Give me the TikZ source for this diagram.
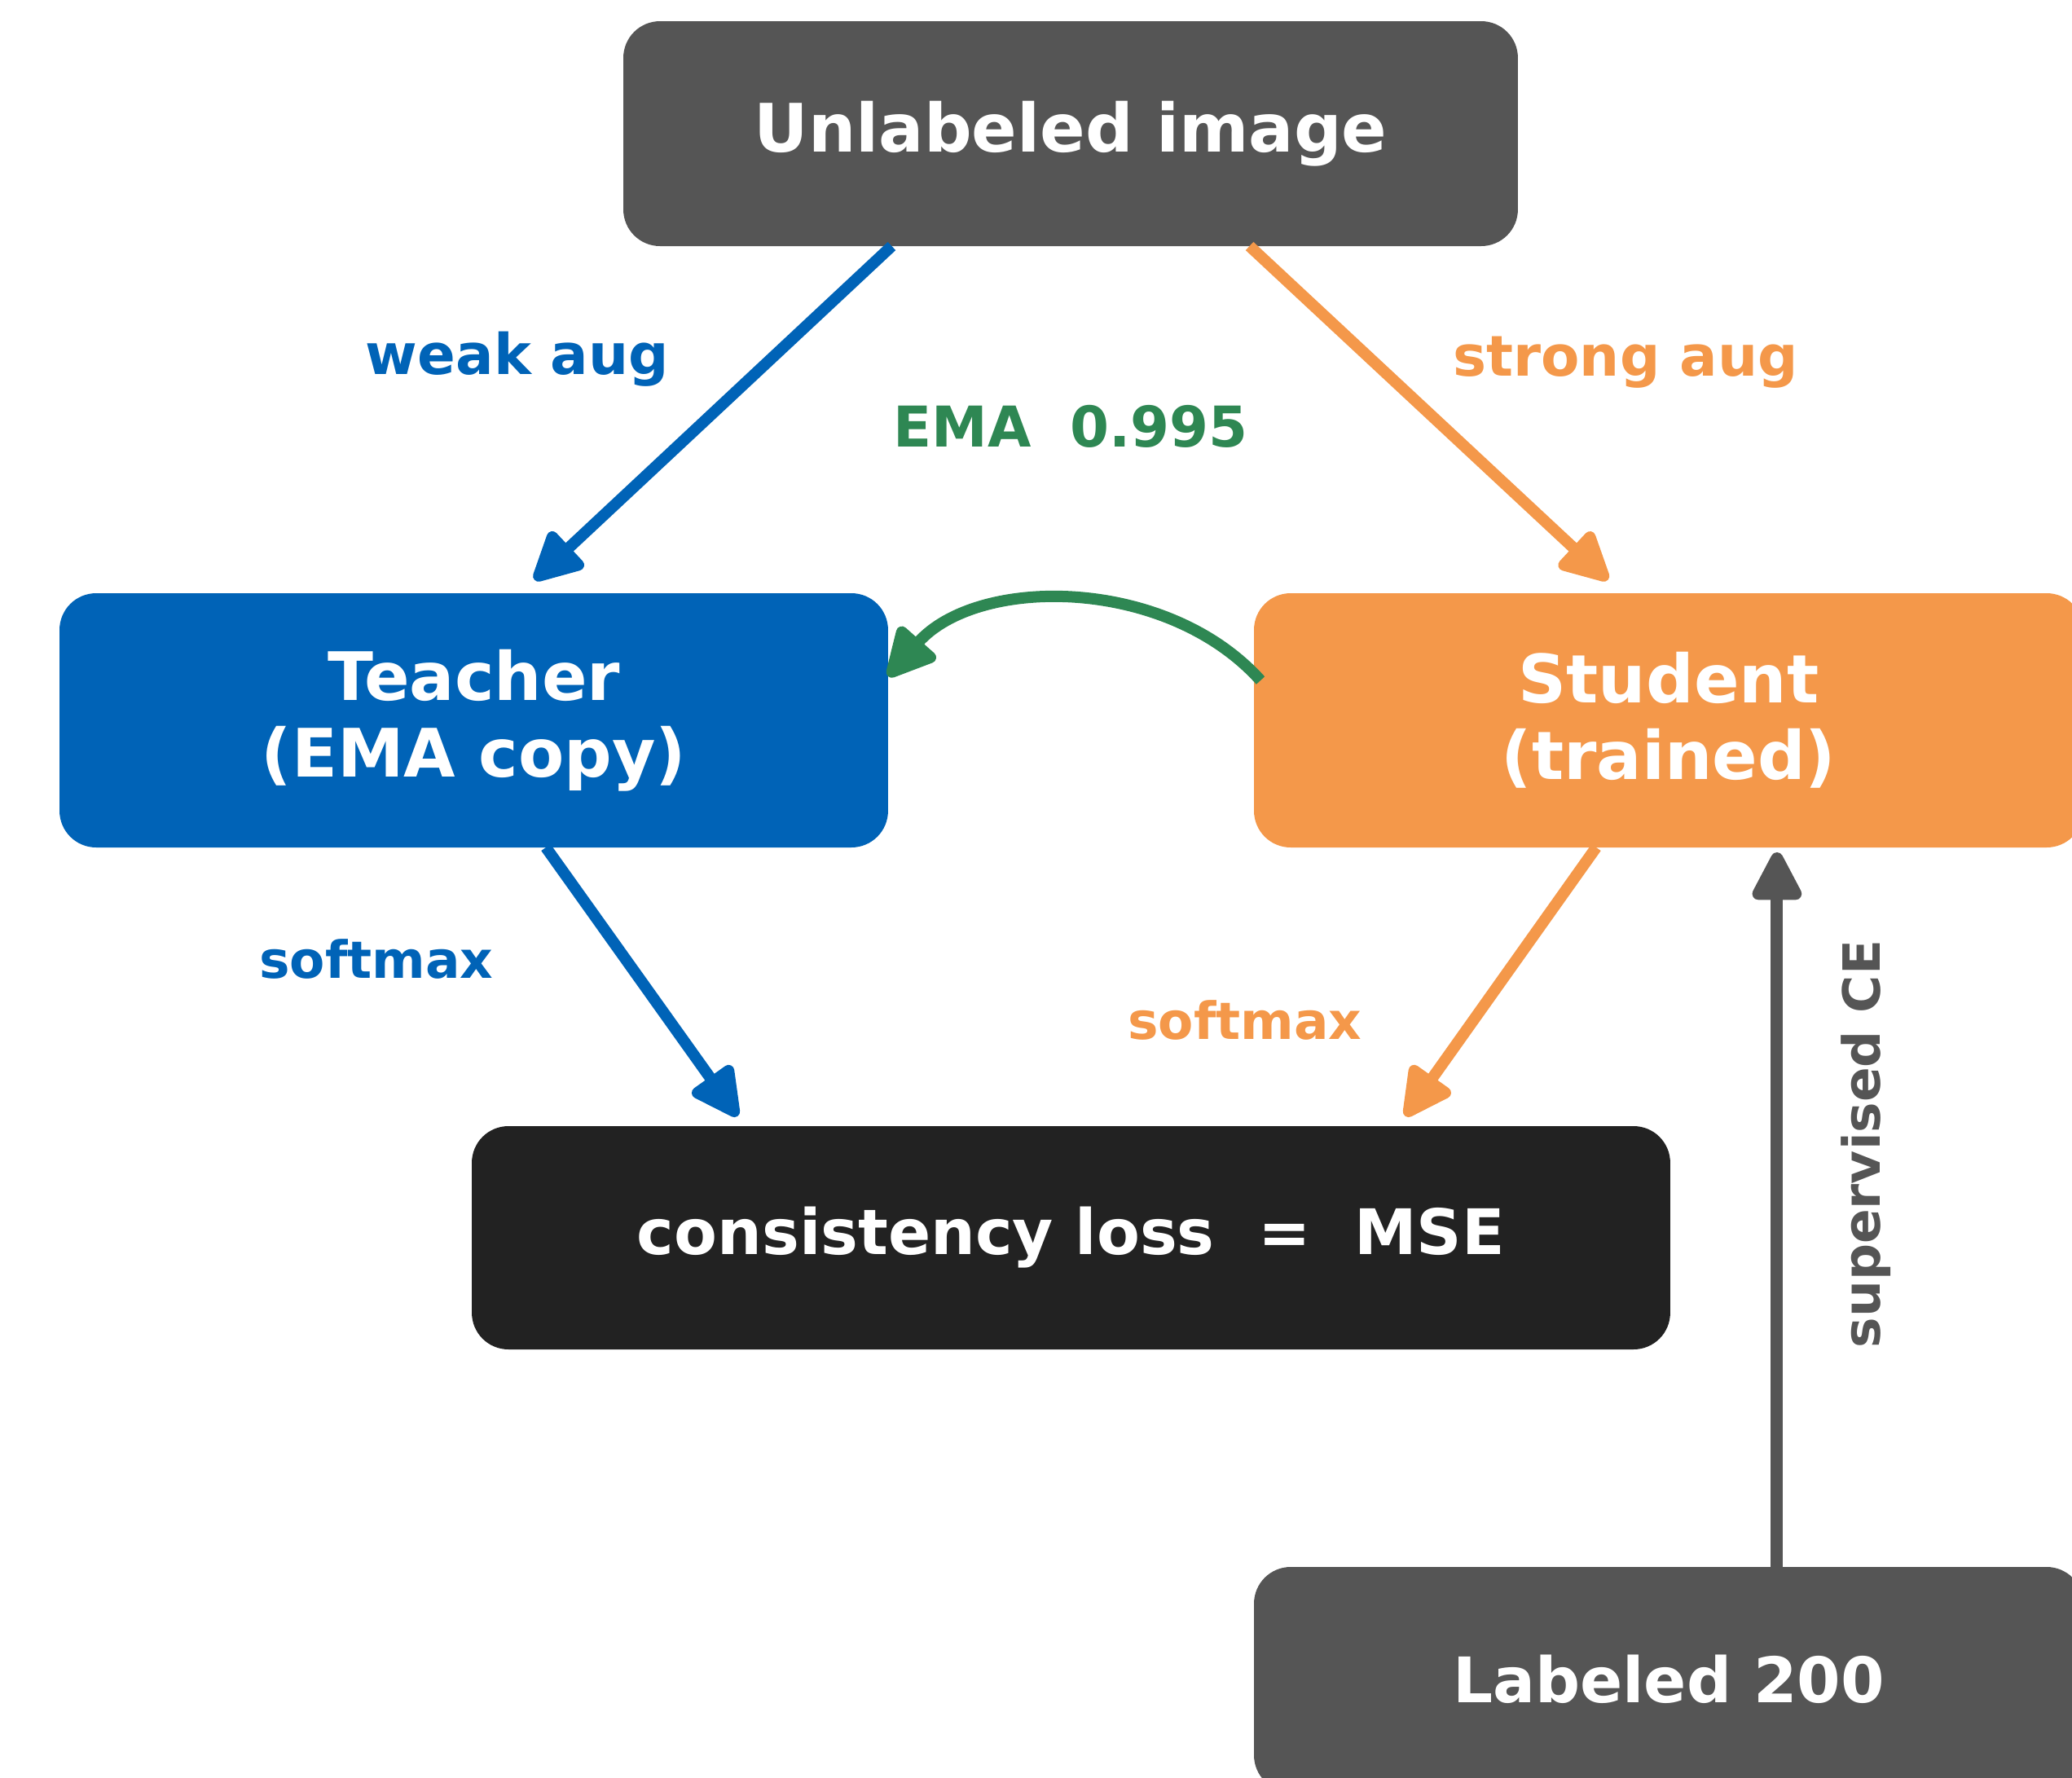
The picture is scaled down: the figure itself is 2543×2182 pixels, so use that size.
\documentclass[tikz,border=0pt]{standalone}
\usepackage{fontspec}
\setmainfont{DejaVu Sans}
\usetikzlibrary{arrows.meta,calc}
\definecolor{cgray}{HTML}{555555}
\definecolor{cblue}{HTML}{0063B7}
\definecolor{corange}{HTML}{F4984A}
\definecolor{cgreen}{HTML}{2E8753}
\definecolor{cdark}{HTML}{222222}
\begin{document}
\begin{tikzpicture}[x=0.1pt,y=-0.1pt,
  box/.style={rectangle, rounded corners=4.5pt, inner sep=0pt, outer sep=0pt,
    text=white, align=center, font=\bfseries\fontsize{8.2}{9.4}\selectfont},
  conn/.style={line width=1.4pt, -{Triangle[length=6.8pt,width=6.6pt,round]}},
  lab/.style={anchor=base, inner sep=0pt, font=\bfseries\fontsize{6.9}{8}\selectfont},
  smlab/.style={lab, font=\bfseries\fontsize{6.3}{7}\selectfont}]
\useasboundingbox (0,0) rectangle (2543,2182);
\clip (0,0) rectangle (2543,2182);

% boxes
\node[box, fill=cgray, minimum width=109.8pt, minimum height=27.6pt] (unl) at (1314,164) {Unlabeled image};
\node[box, fill=cblue, minimum width=101.7pt, minimum height=31.2pt] (teach) at (581.5,884) {Teacher\\(EMA copy)};
\node[box, fill=corange, minimum width=101.8pt, minimum height=31.2pt] (stud) at (2048,884) {Student\\(trained)};
\node[box, fill=cdark, minimum width=147.1pt, minimum height=27.4pt,
      font=\bfseries\fontsize{7.7}{9}\selectfont] (loss) at (1314.5,1519) {consistency loss\ \ =\ \ MSE};
\node[box, fill=cgray, minimum width=101.8pt, minimum height=27.6pt,
      font=\bfseries\fontsize{7.7}{9}\selectfont] (lab200) at (2048,2061) {Labeled 200};

% connectors
\draw[conn, cblue, shorten >=2.4pt] ($(unl.south west)!0.30!(unl.south east)$) -- ($(teach.north west)!0.556!(teach.north east)$);
\draw[conn, corange, shorten >=2.4pt] ($(unl.south west)!0.70!(unl.south east)$) -- ($(stud.north west)!0.444!(stud.north east)$);
\draw[conn, cblue, shorten >=1.5pt] ($(teach.south west)!0.587!(teach.south east)$) -- ($(loss.north west)!0.2277!(loss.north east)$);
\draw[conn, corange, shorten >=1.5pt] ($(stud.south west)!0.4126!(stud.south east)$) -- ($(loss.north west)!0.773!(loss.north east)$);
\draw[conn, cgray, line width=1.5pt, shorten >=0.6pt] ($(lab200.north west)!0.6306!(lab200.north east)$) -- ($(stud.south west)!0.6306!(stud.south east)$);
\coordinate (emaS) at ($(stud.north west)!0.343!(stud.south west)+(8,0)$);
\coordinate (emaT) at ($(teach.north east)!0.327!(teach.south east)$);
\draw[conn, cgreen] (emaS) .. controls +(-115,-128) and +(110,-124) .. (emaT);

% labels
\node[lab, text=cblue] (lweak) at (635,459) {weak aug};
\node[lab, text=corange] (lstrong) at (1995,461) {strong aug};
\node[lab, text=cgreen] (lema) at (1314,548) {EMA\ \ 0.995};
\node[smlab, text=cblue] (lsm1) at (462,1200) {softmax};
\node[smlab, text=corange] (lsm2) at (1528,1275) {softmax};
\node[smlab, text=cgray, rotate=90] (lce) at (2308,1404) {supervised CE};
\end{tikzpicture}
\end{document}
